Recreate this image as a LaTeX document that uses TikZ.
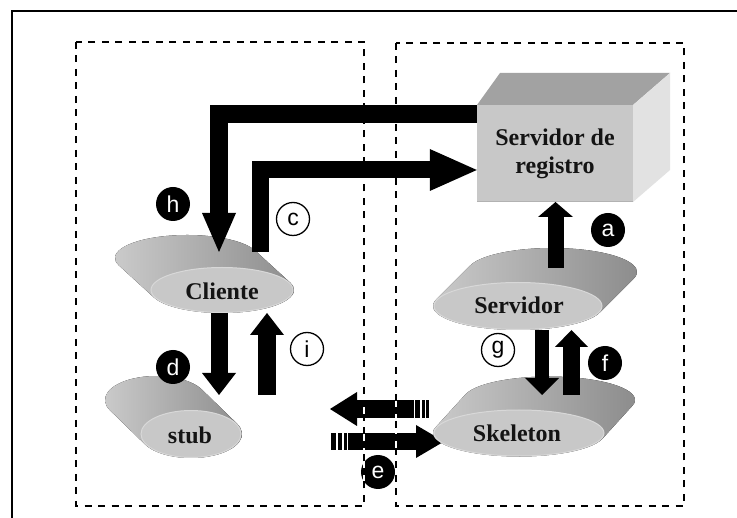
\documentclass[tikz,border=0pt]{standalone}
\usepackage{fontspec}
\setmainfont{Liberation Serif}
\newfontfamily\lblfont{Liberation Sans}
\usetikzlibrary{arrows.meta}

\definecolor{facefront}{RGB}{200,200,200}
\definecolor{facetop}{RGB}{162,162,162}
\definecolor{faceside}{RGB}{226,226,226}
\definecolor{cyllight}{RGB}{205,205,205}
\definecolor{cylmid}{RGB}{172,172,172}
\definecolor{cyldark}{RGB}{138,138,138}
\definecolor{cylrim}{RGB}{216,216,216}

\tikzset{
  boxline/.style={line width=2pt, dash pattern=on 7pt off 6.5pt},
  boxunder/.style={white, line width=1.2pt},
  blockarrow/.style={line width=#1, line join=miter},
  blockarrow/.default=17pt,
  blackdot/.style={circle, fill=black, text=white, minimum size=34pt, inner sep=0pt,
    font=\lblfont\fontsize{23}{23}\selectfont},
  whitedot/.style={circle, draw=black, line width=1.3pt, fill=white, text=black,
    minimum size=33pt, inner sep=0pt, font=\lblfont\fontsize{23}{23}\selectfont},
  cyltext/.style={font=\bfseries\fontsize{24}{28}\selectfont, text=black!92},
  cylbody/.style={left color=cyllight, middle color=cylmid, right color=cyldark},
  cylfront/.style={fill=facefront, draw=cylrim, line width=1pt}
}

\begin{document}
\begin{tikzpicture}[x=1pt,y=-1pt]
\useasboundingbox (0,0) rectangle (737,518);
\fill[white] (0,0) rectangle (737,518);

% outer frame
\draw[line width=2pt] (12,518) -- (12,11) -- (737,11);

% call / reply pair between stub and skeleton
\coordinate (eUs) at (413.5,409);
\coordinate (eUt) at (330,409);
\coordinate (eLs) at (348,441.5);
\coordinate (eLt) at (444,441.5);
\draw[blockarrow=18pt, -{Triangle[length=27pt, width=34pt, line width=0pt]}] (eUs) -- (eUt);
\draw[blockarrow=17pt, -{Triangle[length=28pt, width=33pt, line width=0pt]}] (eLs) -- (eLt);
\fill (415,400) rectangle (420,418);
\fill (421.5,400) rectangle (424.5,418);
\fill (426,400) rectangle (428.5,418);
\fill (331,433) rectangle (336,450);
\fill (337.5,433) rectangle (342,450);
\fill (343.5,433) rectangle (346.5,450);
\node[blackdot] (le) at (378,472) {e};

% client and server machines
\draw[boxunder] (76,42) rectangle (364,506);
\draw[boxline] (76,42) rectangle (364,506);
\draw[boxunder] (396,43) rectangle (684,506);
\draw[boxline] (396,43) rectangle (684,506);

% registry box
\fill[facetop] (477,105) -- (500,73) -- (670,73) -- (633,105) -- cycle;
\fill[faceside] (633,105) -- (670,73) -- (670,170) -- (633,202) -- cycle;
\node[fill=facefront, minimum width=156pt, minimum height=97pt, inner sep=0pt,
      align=center, cyltext] (reg) at (555,153.5) {Servidor de\\registro};
\draw[line width=1pt, black!30] (477,202) -- (633,202);

% Cliente
\fill[cylbody] (222,290) ++(-19.3:72 and 23)
  arc[start angle=-19.3, end angle=160.7, x radius=72, y radius=23]
  -- ++(-35,-32)
  arc[start angle=160.7, end angle=340.7, x radius=72, y radius=23] -- cycle;
\draw[cylfront] (222,290) ellipse[x radius=71, y radius=22.5];
\node[cyltext] (cli) at (222,291) {Cliente};

% stub
\fill[cylbody] (191,434) ++(-25.8:51 and 24)
  arc[start angle=-25.8, end angle=154.2, x radius=51, y radius=24]
  -- ++(-35,-34)
  arc[start angle=154.2, end angle=334.2, x radius=51, y radius=24] -- cycle;
\draw[cylfront] (191,434) ellipse[x radius=50, y radius=23.5];
\node[cyltext] (stub) at (190,435) {stub};

% Servidor
\fill[cylbody] (518,306) ++(15.8:85 and 24)
  arc[start angle=15.8, end angle=195.8, x radius=85, y radius=24]
  -- ++(34,-34)
  arc[start angle=195.8, end angle=375.8, x radius=85, y radius=24] -- cycle;
\draw[cylfront] (518,306) ellipse[x radius=84, y radius=23.5];
\node[cyltext] (serv) at (519,305) {Servidor};

% Skeleton
\fill[cylbody] (519,433) ++(13.95:86 and 23.5)
  arc[start angle=13.95, end angle=193.95, x radius=86, y radius=23.5]
  -- ++(30,-33)
  arc[start angle=193.95, end angle=373.95, x radius=86, y radius=23.5] -- cycle;
\draw[cylfront] (519,433) ellipse[x radius=85, y radius=23];
\node[cyltext] (skel) at (517,433) {Skeleton};

% end points of the connectors
\coordinate (hS) at ([yshift=39.5pt]reg.west);
\coordinate (hT) at (219,252);
\coordinate (cS) at (260,252);
\coordinate (cT) at ([yshift=-16.5pt]reg.west);
\coordinate (aS) at (555.5,268);
\coordinate (aT) at (555.5,202);
\coordinate (dS) at (219,313);
\coordinate (dT) at (219,395);
\coordinate (iS) at (267,395);
\coordinate (iT) at (267,313);
\coordinate (gS) at (542,330);
\coordinate (gT) at (542,395);
\coordinate (fS) at (571.5,395);
\coordinate (fT) at (571.5,330);

% connectors
\draw[blockarrow=18pt, -{Triangle[length=39pt, width=34pt, line width=0pt]}] (hS) -| (hT);
\draw[blockarrow=17pt, -{Triangle[length=47pt, width=42pt, line width=0pt]}] (cS) |- (cT);
\draw[blockarrow=16pt, -{Triangle[length=15pt, width=35pt, line width=0pt]}] (aS) -- (aT);
\draw[blockarrow=17pt, -{Triangle[length=22pt, width=34pt, line width=0pt]}] (dS) -- (dT);
\draw[blockarrow=18pt, -{Triangle[length=22pt, width=34pt, line width=0pt]}] (iS) -- (iT);
\draw[blockarrow=14pt, -{Triangle[length=17pt, width=34pt, line width=0pt]}] (gS) -- (gT);
\draw[blockarrow=17pt, -{Triangle[length=17pt, width=33pt, line width=0pt]}] (fS) -- (fT);

% step labels
\node[blackdot] (la) at (608,230) {a};
\node[blackdot] (lh) at (173,204) {h};
\node[whitedot] (lc) at (293,219) {c};
\node[blackdot] (ld) at (173,367) {d};
\node[whitedot] (li) at (307,349) {i};
\node[whitedot] (lg) at (498,350) {g};
\node[blackdot] (lf) at (605,363) {f};
\end{tikzpicture}
\end{document}
